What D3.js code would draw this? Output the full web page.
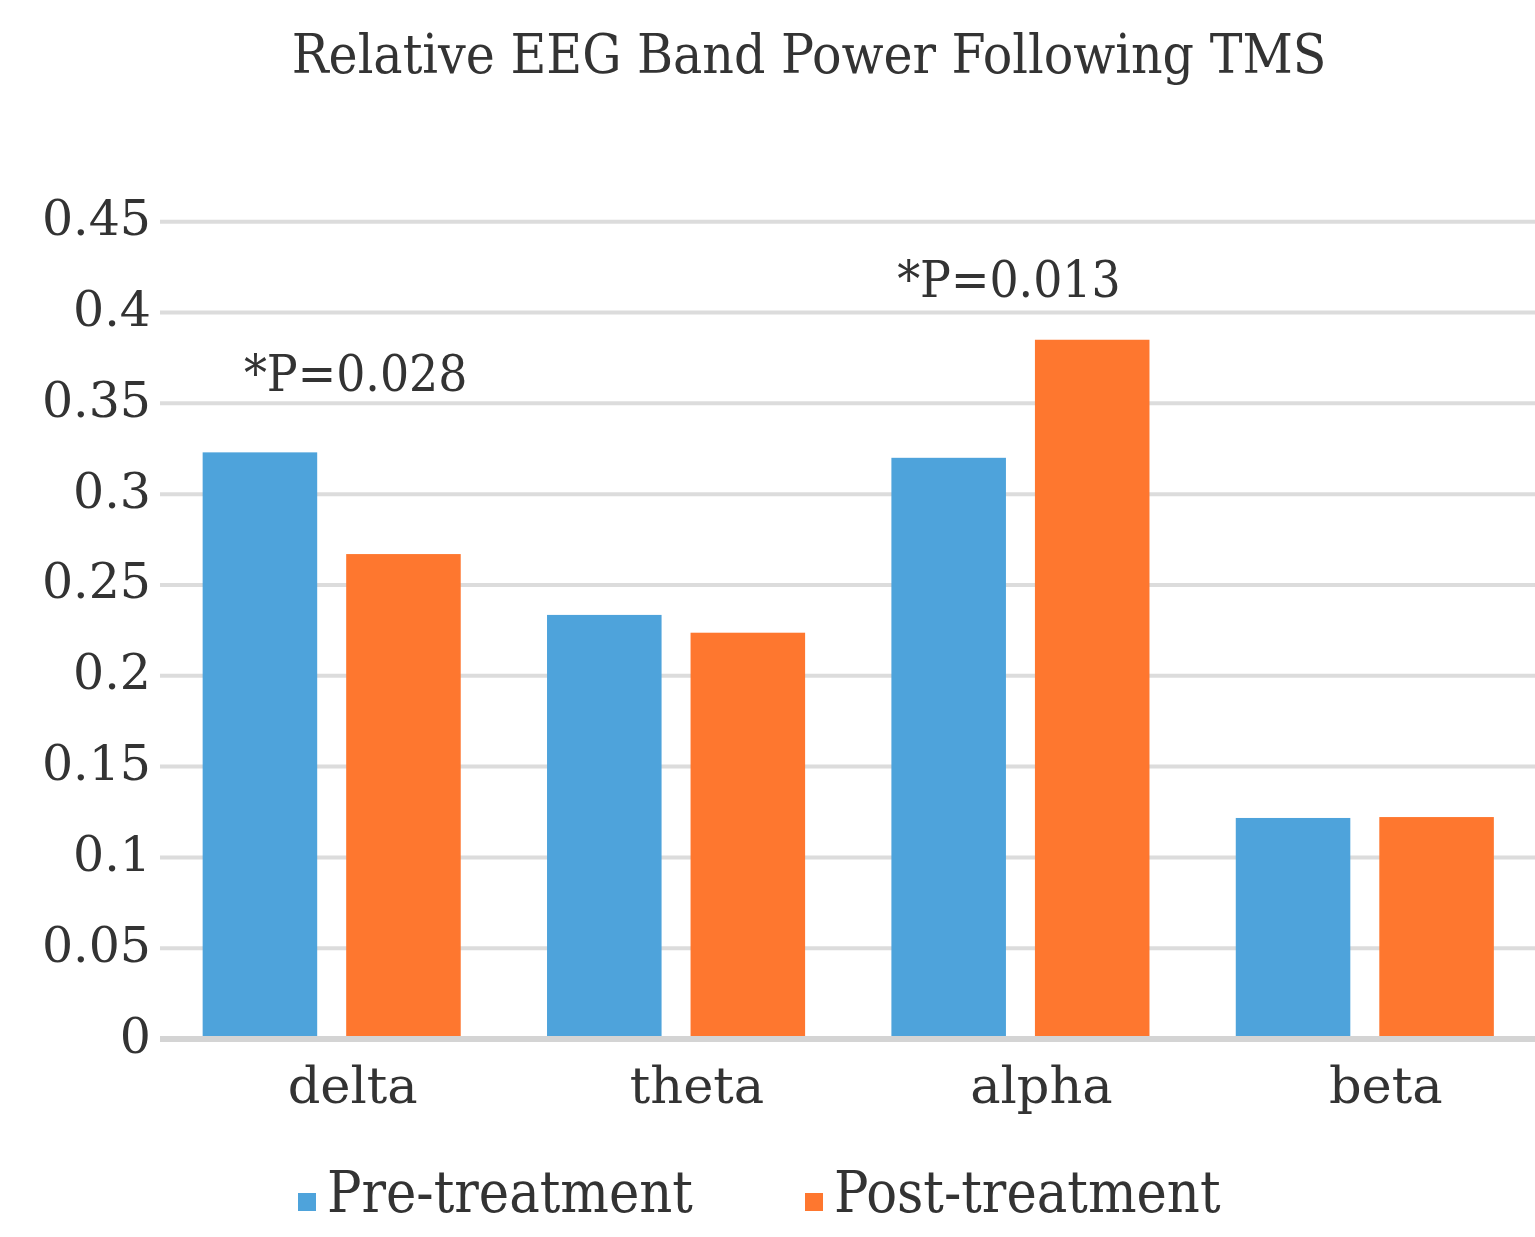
<!DOCTYPE html>
<html>
<head>
<meta charset="utf-8">
<script src="https://cdn.jsdelivr.net/npm/d3@7"></script>
<style>
  html, body { margin: 0; padding: 0; background: #fff; }
  svg { display: block; }
  text { font-family: "DejaVu Serif Condensed", "DejaVu Serif", serif; fill: #333; }
  .reg { font-family: "DejaVu Serif", serif; }
</style>
</head>
<body>
<svg id="chart" width="1535" height="1237"></svg>
<script>
// ---- data ----
const title = "Relative EEG Band Power Following TMS";
const categories = ["delta", "theta", "alpha", "beta"];
const seriesNames = ["Pre-treatment", "Post-treatment"];
const preValues  = [0.323, 0.2335, 0.320, 0.1217];
const postValues = [0.267, 0.2237, 0.385, 0.1222];
const yTicks = [0, 0.05, 0.1, 0.15, 0.2, 0.25, 0.3, 0.35, 0.4, 0.45];
const yTickLabels = ["0", "0.05", "0.1", "0.15", "0.2", "0.25", "0.3", "0.35", "0.4", "0.45"];
const annotations = [
  { category: "delta", label: "*P=0.028", value: 0.357 },
  { category: "alpha", label: "*P=0.013", value: 0.4086 }
];
const colors = ["#4ea3db", "#fe772f"];

// ---- layout ----
const svg = d3.select("#chart");
const plot = { left: 159.5, right: 1537, top: 221.7, bottom: 1039 };

const x0 = d3.scaleBand().domain(categories).range([plot.left, plot.right]).padding(0);
const groupPad = 43.15;
const x1 = d3.scaleBand().domain(seriesNames)
  .range([groupPad, x0.bandwidth() - groupPad]).paddingInner(0.202).paddingOuter(0);
const y = d3.scaleLinear().domain([0, 0.45]).range([plot.bottom, plot.top]);
const color = d3.scaleOrdinal().domain(seriesNames).range(colors);

// gridlines
svg.append("g").selectAll("line").data(yTicks).join("line")
  .attr("x1", 160).attr("x2", 1535)
  .attr("y1", d => y(d)).attr("y2", d => y(d))
  .attr("stroke", d => d === 0 ? "#d4d4d4" : "#dcdcdc")
  .attr("stroke-width", d => d === 0 ? 6 : 4);

// y axis labels via d3 axis
const yAxis = d3.axisLeft(y).tickValues(yTicks)
  .tickFormat((d, i) => yTickLabels[i]).tickSize(0).tickPadding(0);
const gy = svg.append("g").attr("transform", "translate(151,0)").call(yAxis);
gy.select(".domain").remove();
gy.selectAll("text")
  .attr("font-family", null).attr("font-size", null).attr("class", "reg")
  .style("font-size", "49px").attr("dy", "13px").attr("y", 0);

// bars
const rows = categories.map((c, i) => ({ category: c, values: [preValues[i], postValues[i]] }));
const groups = svg.append("g").selectAll("g").data(rows).join("g")
  .attr("transform", d => `translate(${x0(d.category)},0)`);
groups.selectAll("rect")
  .data(d => d.values.map((v, j) => ({ series: seriesNames[j], value: v })))
  .join("rect")
  .attr("x", d => x1(d.series))
  .attr("width", x1.bandwidth())
  .attr("y", d => y(d.value))
  .attr("height", d => y(0) - y(d.value) - 3)
  .attr("fill", d => color(d.series));

// x axis labels via d3 axis
const xAxis = d3.axisBottom(x0).tickSize(0).tickPadding(0);
const gx = svg.append("g").attr("transform", `translate(21,1103)`).call(xAxis);
gx.select(".domain").remove();
gx.selectAll("text")
  .attr("font-family", null).attr("font-size", null).attr("class", "reg")
  .style("font-size", "51px").attr("dy", 0).attr("y", 0);

// annotations
const annoDx = { delta: 24, alpha: -11.5 };
svg.append("g").selectAll("text").data(annotations).join("text")
  .attr("x", d => x0(d.category) + x0.bandwidth() / 2 + annoDx[d.category])
  .attr("y", d => y(d.value))
  .attr("text-anchor", "middle")
  .style("font-size", "51px")
  .text(d => d.label);

// title
svg.append("text").attr("x", 809).attr("y", 73)
  .attr("text-anchor", "middle").style("font-size", "54.6px").text(title);

// legend
const legendX = [298, 805];
const lg = svg.append("g").selectAll("g").data(seriesNames).join("g")
  .attr("transform", (d, i) => `translate(${legendX[i]},1212)`);
lg.append("rect").attr("x", 0).attr("y", -19).attr("width", 18).attr("height", 18)
  .attr("fill", d => color(d));
lg.append("text").attr("x", 29).attr("y", 0).style("font-size", "57px").text(d => d);
</script>
</body>
</html>
